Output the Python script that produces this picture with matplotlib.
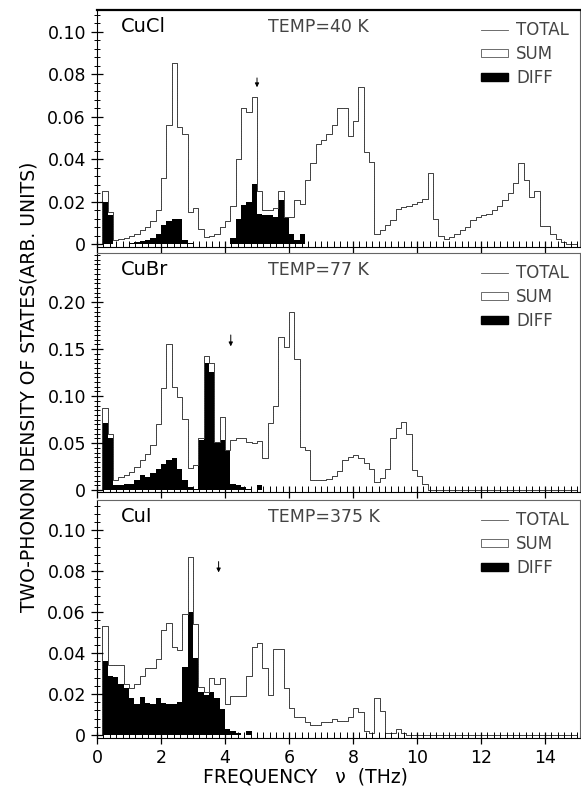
import numpy as np
import matplotlib
matplotlib.use("Agg")
import matplotlib.pyplot as plt
from matplotlib.lines import Line2D
from matplotlib.patches import Patch

# histogram bin width in THz
BIN = 1 / 6

cucl_total = [0, .025, .015, .002, .0025, .003, .004, .005, .0065, .008,
              .011, .016, .031, .056, .085, .055, .052, .015, .017, .007,
              .0035, .004, .005, .008, .011, .018, .040, .064, .062, .069,
              .025, .016, .016, .017, .025, .013, .013, .021, .019, .030,
              .038, .047, .049, .052, .056, .064, .064, .051, .058, .074,
              .0435, .0387, .005, .0066, .009, .0113, .0168, .0176, .018, .019,
              .020, .0215, .0333, .012, .004, .0027, .0035, .005, .0066, .008,
              .0113, .0129, .0136, .0144, .016, .018, .0207, .024, .029, .038,
              .030, .022, .025, .0086, .0086, .005, .0027, .001, .0003, .0003]
cucl_diff = [0, .020, .014, 0, 0, 0, .0005, .001, .0015, .002,
             .003, .005, .009, .011, .012, .012, .002, .0005, 0, 0,
             0, 0, 0, 0, 0, .003, .012, .0187, .020, .0285,
             .0144, .0136, .0136, .013, .0207, .013, .005, .002, .005, 0] + [0] * 50

cubr_total = [0, .087, .060, .0106, .014, .016, .0195, .025, .032, .039,
              .048, .070, .109, .155, .110, .099, .076, .024, .027, .056,
              .143, .135, .051, .078, .043, .053, .055, .056, .051, .050,
              .052, .034, .071, .090, .163, .152, .19, .140, .046, .0425,
              .0106, .0106, .011, .012, .015, .020, .032, .035, .037, .034,
              .0285, .023, .009, .0125, .023, .055, .066, .073, .060, .021,
              .015, .007] + [0] * 28
cubr_diff = [0, .071, .055, .005, .005, .007, .007, .0106, .016, .014,
             .018, .023, .028, .032, .034, .023, .011, .003, .001, .053,
             .135, .126, .051, .053, .043, .007, .005, .0035, .001, 0,
             .005] + [0] * 59

cui_total = [0, .053, .034, .034, .034, .025, .023, .025, .029, .0325,
             .0325, .037, .051, .0545, .043, .0415, .059, .087, .054, .0236,
             .021, .028, .025, .028, .015, .019, .019, .019, .029, .043,
             .0447, .0325, .0195, .042, .042, .023, .013, .009, .009, .0065,
             .005, .005, .0065, .0065, .0078, .0068, .0068, .009, .0133, .011,
             .002, .001, .0179, .0117, .001, .001, .003, .001] + [0] * 32
cui_diff = [0, .036, .029, .0285, .025, .0228, .018, .015, .0187, .0154,
            .015, .0179, .0154, .015, .015, .016, .0333, .060, .0374, .021,
            .0195, .021, .018, .0127, .003, .002, .001, 0, .002, 0] + [0] * 60

samples = ["CuCl", "CuBr", "CuI"]
temps = ["TEMP=40 K", "TEMP=77 K", "TEMP=375 K"]
y_ticks = [[0, .02, .04, .06, .08, .10],
           [0, .05, .10, .15, .20],
           [0, .02, .04, .06, .08, .10]]
y_labels = [["0", "0.02", "0.04", "0.06", "0.08", "0.10"],
            ["0", "0.05", "0.10", "0.15", "0.20"],
            ["0", "0.02", "0.04", "0.06", "0.08", "0.10"]]
y_limits = [(-0.0014, 0.110), (-0.0021, 0.252), (-0.0015, 0.1146)]
y_minor = [0.004, 0.005, 0.004]
arrows = [(5.0, 0.0795, 0.0725), (4.18, 0.168, 0.150), (3.8, 0.086, 0.078)]

totals = [cucl_total, cubr_total, cui_total]
diffs = [cucl_diff, cubr_diff, cui_diff]

plt.rcParams['font.family'] = 'DejaVu Sans'

fig = plt.figure(figsize=(5.81, 7.90), dpi=100)
boxes = [[0.167, 0.687, 0.831, 0.300],
         [0.167, 0.377, 0.831, 0.3025],
         [0.167, 0.0658, 0.831, 0.301]]

for i in range(3):
    ax = fig.add_axes(boxes[i])
    total = np.array(totals[i])
    diff = np.array(diffs[i])
    summ = total - diff
    edges = np.arange(len(total) + 1) * BIN

    ax.stairs(diff, edges, fill=True, color="black", lw=0)
    ax.stairs(diff + summ, edges, baseline=None, color="#888888", lw=0.7,
              linestyle=(0, (1.2, 0.6)))
    ax.stairs(total, edges, baseline=None, color="#3a3a3a", lw=0.65)

    ax.set_xlim(0, 15.09)
    ax.set_ylim(*y_limits[i])
    ax.set_xticks(range(0, 15, 2))
    ax.set_xticks(np.arange(0, 15.01, 0.2), minor=True)
    ax.set_yticks(y_ticks[i])
    ax.set_yticklabels(y_labels[i])
    ax.set_yticks(np.arange(0, y_limits[i][1], y_minor[i]), minor=True)
    ax.tick_params(axis="both", which="major", direction="inout", length=9,
                   width=0.9, labelsize=12.5)
    ax.tick_params(axis="y", which="minor", direction="inout", length=5, width=0.7)
    ax.tick_params(axis="x", which="minor", direction="in", length=4, width=0.7)
    if i < 2:
        ax.tick_params(axis="x", labelbottom=False)
    for s in ax.spines.values():
        s.set_linewidth(0.8)
    ax.spines["right"].set_color("#666666")
    if i == 0:
        ax.spines["top"].set_linewidth(1.6)
    else:
        ax.spines["top"].set_color("#666666")

    ax.text(0.05, 0.93, samples[i], transform=ax.transAxes, fontsize=14,
            va="center", ha="left")
    ax.text(0.355, 0.93, temps[i], transform=ax.transAxes, fontsize=12.5,
            va="center", ha="left", color="#444444")

    handles = [Line2D([], [], color="#555555", lw=0.6),
               Patch(facecolor="white", edgecolor="#555555", lw=0.6),
               Patch(facecolor="black", edgecolor="black")]
    leg = ax.legend(handles, ["TOTAL", "SUM", "DIFF"], loc="upper right",
                    frameon=False, fontsize=12, handlelength=1.6,
                    handleheight=0.35, labelspacing=0.35,
                    borderaxespad=0.25, handletextpad=0.5)
    for t in leg.get_texts():
        t.set_color("#444444")

    fx, y0, y1 = arrows[i]
    ax.annotate("", xy=(fx, y1), xytext=(fx, y0),
                arrowprops=dict(arrowstyle="-|>", color="black", lw=0.7,
                                mutation_scale=6))

fig.text(0.05, 0.51, "TWO-PHONON DENSITY OF STATES(ARB. UNITS)", rotation=90,
         fontsize=13.5, ha="center", va="center")
fig.text(0.525, 0.0165, "FREQUENCY   \u03bd  (THz)", fontsize=13.5,
         ha="center", va="center")

fig.savefig("out.png", dpi=100)
